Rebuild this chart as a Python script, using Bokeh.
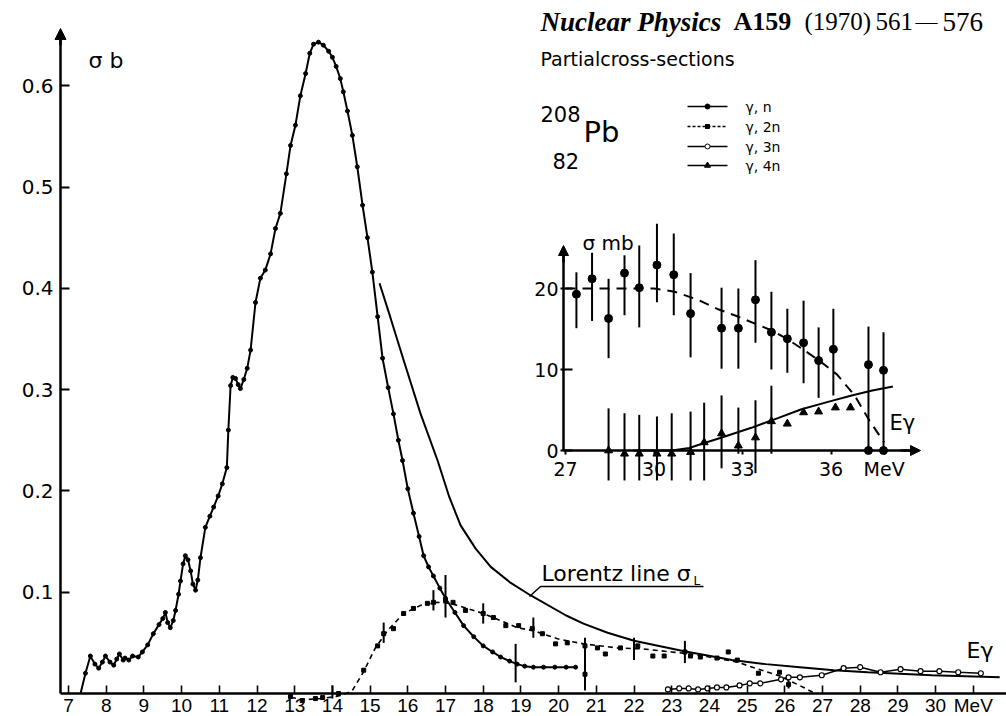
from bokeh.plotting import figure
from bokeh.models import (LinearAxis, FixedTicker, Range1d, Arrow, NormalHead)
from bokeh.core.properties import value
from bokeh.embed import file_html
from bokeh.resources import INLINE

# ---------------- data ----------------
# main plot: E in MeV, sigma in barn
gn_E = [7.32, 7.45, 7.58, 7.7, 7.8, 7.9, 7.98, 8.1, 8.2, 8.28, 8.35, 8.45, 8.5, 8.6, 8.7, 8.85,
        8.96, 9.1, 9.25, 9.4, 9.5, 9.57, 9.63, 9.7, 9.78, 9.84, 9.92, 9.97, 10.04, 10.1, 10.17,
        10.24, 10.3, 10.37, 10.43, 10.5, 10.63, 10.75, 10.85, 10.97, 11.08, 11.2, 11.24, 11.3,
        11.36, 11.43, 11.5, 11.56, 11.65, 11.74, 11.83, 11.96, 12.09, 12.22, 12.36, 12.49, 12.62,
        12.78, 12.89, 13.02, 13.15, 13.29, 13.4, 13.5, 13.63, 13.76, 13.9, 14.0, 14.1, 14.21,
        14.29, 14.4, 14.53, 14.66, 14.8, 14.93, 15.06, 15.2, 15.33, 15.48, 15.62, 15.75, 15.86,
        16.0, 16.15, 16.3, 16.42, 16.55, 16.68, 16.85, 17.0, 17.25, 17.48, 17.75, 18.0, 18.25,
        18.46, 18.7, 18.9, 19.1, 19.33, 19.6, 19.9, 20.2, 20.45]
gn_S = [0.0, 0.02, 0.037, 0.029, 0.025, 0.031, 0.037, 0.031, 0.028, 0.034, 0.039, 0.033, 0.035,
        0.033, 0.037, 0.036, 0.041, 0.048, 0.059, 0.068, 0.074, 0.08, 0.07, 0.065, 0.072, 0.082,
        0.098, 0.111, 0.128, 0.136, 0.132, 0.121, 0.108, 0.102, 0.112, 0.134, 0.164, 0.175, 0.184,
        0.195, 0.207, 0.223, 0.26, 0.304, 0.312, 0.311, 0.305, 0.301, 0.31, 0.321, 0.339, 0.386,
        0.41, 0.418, 0.434, 0.459, 0.474, 0.513, 0.541, 0.561, 0.59, 0.612, 0.632, 0.641, 0.643,
        0.64, 0.634, 0.628, 0.619, 0.607, 0.594, 0.575, 0.551, 0.52, 0.482, 0.45, 0.416, 0.372,
        0.331, 0.302, 0.276, 0.25, 0.23, 0.202, 0.178, 0.155, 0.136, 0.125, 0.116, 0.104, 0.094,
        0.08, 0.067, 0.056, 0.047, 0.041, 0.036, 0.032, 0.029, 0.027, 0.026, 0.026, 0.026, 0.026,
        0.026]
gn_err_E = [18.86]
gn_err_lo = [0.011]
gn_err_hi = [0.049]

lz_E = [15.25, 15.54, 15.89, 16.34, 16.79, 17.1, 17.4, 17.8, 18.2, 18.7, 19.25, 20.2, 20.66,
        21.3, 22.0, 23.3, 24.6, 25.5, 26.4, 27.3, 28.2, 29.9, 30.8, 31.7]
lz_S = [0.405, 0.371, 0.329, 0.276, 0.23, 0.194, 0.166, 0.143, 0.125, 0.11, 0.097, 0.077, 0.069,
        0.06, 0.052, 0.042, 0.033, 0.029, 0.026, 0.023, 0.021, 0.018, 0.017, 0.016]

d2_E = [12.9, 13.3, 13.7, 14.1, 14.3, 14.53, 14.82, 15.14, 15.46, 15.89, 16.34, 16.79, 17.13,
        17.58, 18.0, 18.46, 18.9, 19.33, 19.97, 20.66, 21.56, 22.25, 23.0, 23.5, 24.0, 24.74,
        25.3, 25.9, 26.1, 26.5, 26.8]
d2_S = [-0.004, -0.006, -0.005, -0.003, -0.001, 0.003, 0.021, 0.045, 0.062, 0.079, 0.087, 0.09,
        0.089, 0.084, 0.079, 0.072, 0.065, 0.062, 0.054, 0.049, 0.045, 0.044, 0.041, 0.039,
        0.036, 0.031, 0.024, 0.017, 0.013, 0.006, 0.0]
p2_E = [12.89, 13.2, 13.55, 13.74, 14.16, 14.83, 15.2, 15.36, 15.62, 15.89, 16.15, 16.52, 16.68,
        17.0, 17.2, 17.53, 18.0, 18.27, 18.6, 18.94, 19.3, 19.57, 19.92, 20.23, 20.7, 20.7, 21.03,
        21.24, 21.64, 22.1, 22.5, 22.8, 23.35, 23.5, 23.76, 24.2, 24.5, 24.74, 25.3, 25.86, 26.1]
p2_S = [-0.003, -0.007, -0.005, -0.004, 0.0, 0.023, 0.047, 0.059, 0.064, 0.079, 0.084, 0.089,
        0.09, 0.092, 0.09, 0.082, 0.079, 0.075, 0.067, 0.067, 0.064, 0.059, 0.049, 0.05, 0.047,
        0.019, 0.045, 0.039, 0.045, 0.047, 0.037, 0.037, 0.041, 0.037, 0.036, 0.035, 0.041,
        0.033, 0.02, 0.021, 0.009]
e2_E = [14.0, 15.36, 16.68, 17.0, 18.0, 19.33, 20.7, 22.0, 23.35, 26.1]
e2_lo = [-0.005, 0.05, 0.082, 0.075, 0.069, 0.055, 0.003, 0.033, 0.030, 0.005]
e2_hi = [0.008, 0.07, 0.102, 0.117, 0.089, 0.075, 0.055, 0.055, 0.052, 0.013]

p3_E = [22.9, 23.2, 23.45, 23.7, 23.95, 24.2, 24.45, 24.8, 25.07, 25.35, 25.9, 26.1, 26.4,
        26.98, 27.56, 28.0, 28.54, 29.07, 29.6, 30.1, 30.6, 31.2]
p3_S = [0.004, 0.005, 0.005, 0.004, 0.005, 0.006, 0.006, 0.008, 0.01, 0.01, 0.014, 0.016, 0.016,
        0.018, 0.025, 0.026, 0.021, 0.024, 0.022, 0.022, 0.021, 0.02]

x_ticks = list(range(7, 32))
y_ticks = [0.1, 0.2, 0.3, 0.4, 0.5, 0.6]

# inset: E in MeV, sigma in mb
in_E = [27.37, 27.9, 28.46, 29.0, 29.5, 30.1, 30.67, 31.24, 32.29, 32.86, 33.44, 33.98, 34.52,
        35.07, 35.58, 36.08, 37.27, 37.78]
in_S = [19.3, 21.2, 16.3, 21.9, 20.1, 22.9, 21.7, 16.9, 15.1, 15.1, 18.6, 14.6, 13.8, 13.3,
        11.1, 12.5, 10.6, 9.9]
in_lo = [15.1, 16.0, 11.4, 16.7, 15.2, 18.3, 16.7, 11.5, 10.1, 10.1, 13.3, 10.0, 9.6, 8.3, 6.5,
         6.8, 0.0, 0.0]
in_hi = [22.0, 24.4, 21.2, 24.1, 25.3, 28.0, 26.8, 21.9, 20.1, 20.0, 23.5, 19.6, 17.5, 18.5,
         15.2, 17.5, 15.3, 14.6]
id_E = [27.0, 28.0, 29.0, 30.0, 30.7, 31.5, 32.2, 32.8, 33.4, 34.0, 34.5, 35.0, 35.6, 36.2,
        36.8, 37.3, 37.8]
id_S = [20.0, 20.0, 20.0, 20.0, 19.6, 18.6, 17.4, 16.6, 15.7, 14.8, 13.8, 12.6, 11.1, 9.4, 6.8,
        3.7, 1.0]
tr_E = [28.46, 29.0, 29.5, 30.1, 30.6, 31.24, 31.7, 32.29, 32.86, 33.44, 33.98, 34.52, 35.07,
        35.58, 36.15, 36.66]
tr_S = [0.0, -0.4, -0.4, -0.4, -0.4, -0.2, 1.0, 2.1, 0.6, 1.6, 3.6, 3.3, 4.7, 4.8, 5.3, 5.3]
tr_err_E = [28.46, 29.0, 29.5, 30.1, 30.6, 31.24, 31.7, 32.29, 32.86, 33.44, 33.98]
tr_err_lo = [-3.7, -3.7, -3.7, -3.7, -3.7, -3.7, -3.7, -2.2, -0.4, -2.8, -0.4]
tr_err_hi = [5.2, 4.6, 4.4, 4.2, 4.6, 4.8, 5.9, 6.8, 5.3, 6.2, 8.0]
zero_E = [37.27, 37.78]
zero_S = [0.0, 0.0]
is_E = [29.3, 30.0, 30.6, 31.2, 31.6, 32.3, 33.3, 34.2, 35.0, 35.9, 36.7, 37.4, 38.1]
is_S = [0.0, 0.0, 0.0, 0.3, 0.8, 1.6, 2.8, 4.0, 5.1, 6.0, 6.8, 7.4, 7.9]
in_x_ticks = [27, 30, 33, 36, 37.8]
in_y_ticks = [0, 10, 20]

# ---------------- pixel <-> data helpers (page is 1006 x 716) ----------------
W, H = 1006, 716
def dx(px): return 7 + (px - 68) / 37.7
def dy(py): return (693 - py) / 1013
def ix(px): return 27 + (px - 565) / 29.5
def iy(py): return (450 - py) / 8.1

p = figure(width=W, height=H, output_backend="svg", toolbar_location=None,
           x_axis_location=None, y_axis_location=None,
           x_range=Range1d(dx(0), dx(W)), y_range=Range1d(dy(H), dy(0)),
           min_border=0, outline_line_color=None, background_fill_color="white",
           border_fill_color="white")
p.extra_x_ranges = {"ix": Range1d(ix(0), ix(W))}
p.extra_y_ranges = {"iy": Range1d(iy(H), iy(0))}
for g in p.grid:
    g.visible = False

FONT = "Liberation Sans"
RFONT = "DejaVu Sans"

def style_axis(a, size, font=FONT):
    a.axis_line_width = 2.5
    a.axis_line_color = "black"
    a.major_tick_line_width = 2
    a.major_tick_line_color = "black"
    a.minor_tick_line_color = None
    a.major_label_text_font = font
    a.major_label_text_font_size = f"{size}px"
    a.major_label_text_color = "black"

# main axes
xa = LinearAxis(fixed_location=0, bounds=(dx(60), dx(W)), ticker=FixedTicker(ticks=x_ticks),
                major_label_overrides={31: "MeV"})
style_axis(xa, 19)
xa.major_tick_in = 8
xa.major_tick_out = 0
xa.major_tick_line_width = 1.6
xa.major_label_standoff = 1
p.add_layout(xa, "below")

ya = LinearAxis(fixed_location=dx(60), bounds=(0, dy(36)), ticker=FixedTicker(ticks=y_ticks))
style_axis(ya, 20, RFONT)
ya.major_tick_in = 9
ya.major_tick_out = 0
ya.major_label_standoff = 7
p.add_layout(ya, "left")
p.add_layout(Arrow(end=NormalHead(size=11, fill_color="black", line_color="black"),
                   x_start=dx(60), y_start=dy(45), x_end=dx(60), y_end=dy(28),
                   line_width=2.5))

# inset axes
iya = LinearAxis(x_range_name="ix", y_range_name="iy", fixed_location=ix(563),
                 bounds=(0, iy(252)), ticker=FixedTicker(ticks=in_y_ticks))
style_axis(iya, 19, RFONT)
iya.major_tick_in = 9
iya.major_tick_out = 3
iya.major_label_standoff = 2
p.add_layout(iya, "left")
ixa = LinearAxis(x_range_name="ix", y_range_name="iy", fixed_location=0,
                 bounds=(ix(563), ix(912)), ticker=FixedTicker(ticks=in_x_ticks),
                 major_label_overrides={37.8: "MeV"})
style_axis(ixa, 19, RFONT)
ixa.major_tick_in = 0
ixa.major_tick_out = 4
ixa.major_label_standoff = 3
p.add_layout(ixa, "below")
p.add_layout(Arrow(end=NormalHead(size=10, fill_color="black", line_color="black"),
                   x_start=ix(563), y_start=iy(262), x_end=ix(563), y_end=iy(245),
                   line_width=2.5, x_range_name="ix", y_range_name="iy"))
p.add_layout(Arrow(end=NormalHead(size=10, fill_color="black", line_color="black"),
                   x_start=ix(900), y_start=0, x_end=ix(920), y_end=0,
                   line_width=2.5, x_range_name="ix", y_range_name="iy"))

# ---------------- main curves ----------------
p.line(lz_E, lz_S, line_color="black", line_width=2)
p.line(gn_E, gn_S, line_color="black", line_width=2)
p.scatter(gn_E[1:], gn_S[1:], size=4, marker="circle", color="black")
p.segment(x0=gn_err_E, y0=gn_err_lo, x1=gn_err_E, y1=gn_err_hi, line_color="black", line_width=2)

p.line(d2_E, d2_S, line_color="black", line_width=1.6, line_dash="5 4")
p.scatter(p2_E, p2_S, size=4, marker="square", color="black")
p.segment(x0=e2_E, y0=e2_lo, x1=e2_E, y1=e2_hi, line_color="black", line_width=2)

p.line(p3_E, p3_S, line_color="black", line_width=1.5)
p.scatter(p3_E, p3_S, size=5, marker="circle", fill_color="white", line_color="black",
          line_width=1.2)

# ---------------- inset ----------------
p.segment(x0=in_E, y0=in_lo, x1=in_E, y1=in_hi, line_color="black", line_width=2,
          x_range_name="ix", y_range_name="iy")
p.segment(x0=tr_err_E, y0=tr_err_lo, x1=tr_err_E, y1=tr_err_hi, line_color="black",
          line_width=2, x_range_name="ix", y_range_name="iy")
p.line(id_E, id_S, line_color="black", line_width=2, line_dash="10 7",
       x_range_name="ix", y_range_name="iy")
p.line(is_E, is_S, line_color="black", line_width=2, x_range_name="ix", y_range_name="iy")
p.scatter(in_E, in_S, size=8, marker="circle", color="black", x_range_name="ix",
          y_range_name="iy")
p.scatter(tr_E, tr_S, size=8, marker="triangle", color="black", x_range_name="ix",
          y_range_name="iy")
p.scatter(zero_E, zero_S, size=8, marker="circle", color="black", x_range_name="ix",
          y_range_name="iy")

# ---------------- texts & decorations ----------------
def txt(px, py, s, size, font=FONT, style="normal", align="left", baseline="middle"):
    p.text(x=[dx(px)], y=[dy(py)], text=[s], text_font=value(font),
           text_font_size=f"{size}px", text_font_style=style, text_align=align,
           text_baseline=baseline, text_color="black")

SERIF = "Liberation Serif"
txt(540, 21, "Nuclear Physics", 27, SERIF, "bold italic")
txt(733, 21, "A159", 26, SERIF, "bold")
txt(804, 21, "(1970)", 25, SERIF)
txt(875, 21, "561", 25, SERIF)
txt(926, 21, "\u2014", 22, SERIF, align="center")
txt(942, 21, "576", 27, SERIF)
txt(540, 58, "Partialcross-sections", 19, RFONT)
txt(540, 113, "208", 21, RFONT)
txt(583, 131, "Pb", 29, RFONT)
txt(552, 160, "82", 21, RFONT)

leg_y = [106, 126, 146, 165]
leg_txt = ["\u03b3, n", "\u03b3, 2n", "\u03b3, 3n", "\u03b3, 4n"]
for k, yy in enumerate(leg_y):
    dash = "3 2" if k == 1 else "solid"
    p.line([dx(687), dx(727)], [dy(yy), dy(yy)], line_color="black", line_width=1.5,
           line_dash=dash)
    txt(745, yy, leg_txt[k], 14, RFONT)
p.scatter([dx(707)], [dy(leg_y[0])], size=5, marker="circle", color="black")
p.scatter([dx(707)], [dy(leg_y[1])], size=4, marker="square", color="black")
p.scatter([dx(707)], [dy(leg_y[2])], size=5, marker="circle", fill_color="white",
          line_color="black")
p.scatter([dx(707)], [dy(leg_y[3])], size=6, marker="triangle", color="black")

txt(88, 60, "\u03c3 b", 22, RFONT)
txt(582, 242, "\u03c3 mb", 20, RFONT)
txt(889, 422, "E\u03b3", 21, RFONT)
txt(966, 650, "E\u03b3", 22, RFONT)

# Lorentz line label with underline and leader
txt(541, 573, "Lorentz line \u03c3", 22, RFONT)
txt(693, 580, "L", 12, RFONT)
p.line([dx(529), dx(540), dx(703)], [dy(596), dy(586), dy(586)], line_color="black",
       line_width=1.5)

open("out.html", "w").write(file_html(p, INLINE))
